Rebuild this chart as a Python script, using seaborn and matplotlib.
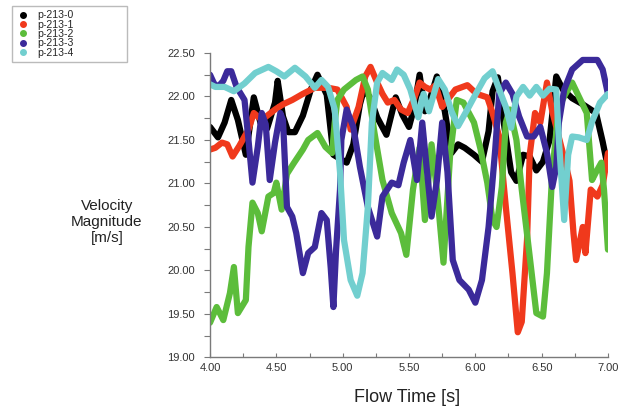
import matplotlib
matplotlib.use("Agg")
import matplotlib.pyplot as plt
from matplotlib.lines import Line2D
from matplotlib.ticker import MultipleLocator, FormatStrFormatter
import seaborn as sns
import pandas as pd

# ---- data ----
probes = ["p-213-0", "p-213-1", "p-213-2", "p-213-3", "p-213-4"]
colors = ["#000000", "#f0391c", "#5cbd3b", "#3b2a9a", "#72cfcf"]

t0 = [4.00, 4.06, 4.11, 4.16, 4.21, 4.27, 4.33, 4.38, 4.43, 4.49, 4.51, 4.55, 4.59, 4.64,
      4.70, 4.76, 4.81, 4.88, 4.93, 5.03, 5.08, 5.13, 5.16, 5.21, 5.26, 5.33, 5.40, 5.45,
      5.50, 5.54, 5.58, 5.62, 5.66, 5.71, 5.77, 5.82, 5.87, 5.92, 5.99, 6.05, 6.10, 6.13,
      6.17, 6.22, 6.27, 6.31, 6.36, 6.41, 6.46, 6.51, 6.56, 6.61, 6.66, 6.73, 6.81, 6.91,
      6.96, 7.00]
v0 = [21.65, 21.53, 21.70, 21.96, 21.73, 21.33, 21.99, 21.70, 21.63, 21.93, 22.18, 21.77,
      21.59, 21.59, 21.78, 22.08, 22.25, 22.02, 21.33, 21.24, 21.45, 21.91, 22.08, 21.98,
      21.76, 21.56, 21.99, 21.79, 21.65, 21.88, 22.25, 21.83, 21.98, 22.23, 21.83, 21.35,
      21.45, 21.41, 21.33, 21.25, 21.60, 22.06, 22.22, 21.64, 21.13, 21.03, 21.33, 21.31,
      21.15, 21.25, 21.50, 22.23, 22.08, 21.98, 21.91, 21.81, 21.48, 21.18]

t1 = [4.00, 4.04, 4.09, 4.13, 4.17, 4.22, 4.29, 4.33, 4.39, 4.44, 4.49, 4.55, 4.62, 4.70,
      4.79, 4.89, 4.96, 5.03, 5.06, 5.12, 5.17, 5.21, 5.26, 5.30, 5.34, 5.39, 5.44, 5.49,
      5.54, 5.58, 5.62, 5.66, 5.70, 5.75, 5.81, 5.85, 5.94, 6.01, 6.09, 6.13, 6.18, 6.23,
      6.28, 6.32, 6.35, 6.39, 6.41, 6.45, 6.49, 6.54, 6.58, 6.63, 6.68, 6.71, 6.74, 6.76,
      6.81, 6.83, 6.87, 6.92, 6.96, 7.00]
v1 = [21.39, 21.41, 21.47, 21.45, 21.31, 21.43, 21.62, 21.81, 21.73, 21.79, 21.85, 21.91,
      21.96, 22.03, 22.10, 22.10, 22.08, 21.88, 21.62, 21.88, 22.23, 22.34, 22.16, 22.03,
      21.93, 21.96, 21.85, 21.81, 21.98, 22.16, 22.11, 22.08, 22.13, 21.88, 22.00, 22.08,
      22.13, 22.03, 21.99, 21.81, 21.54, 20.73, 19.97, 19.29, 19.41, 20.36, 21.33, 21.81,
      21.70, 22.16, 21.83, 21.53, 21.23, 21.03, 20.43, 20.12, 20.50, 20.20, 20.93, 20.85,
      20.98, 21.35]

t2 = [4.00, 4.05, 4.10, 4.15, 4.18, 4.21, 4.27, 4.29, 4.32, 4.36, 4.39, 4.44, 4.48, 4.50,
      4.54, 4.58, 4.63, 4.70, 4.74, 4.81, 4.87, 4.92, 4.94, 4.96, 5.01, 5.10, 5.15, 5.19,
      5.24, 5.30, 5.37, 5.44, 5.48, 5.53, 5.58, 5.62, 5.67, 5.71, 5.76, 5.81, 5.86, 5.91,
      5.99, 6.04, 6.09, 6.13, 6.16, 6.20, 6.23, 6.26, 6.31, 6.35, 6.41, 6.46, 6.51, 6.54,
      6.58, 6.63, 6.68, 6.73, 6.78, 6.84, 6.88, 6.91, 6.95, 6.97, 7.00]
v2 = [19.40, 19.58, 19.43, 19.74, 20.04, 19.51, 19.66, 20.27, 20.78, 20.66, 20.45, 20.85,
      20.89, 21.01, 20.70, 21.11, 21.23, 21.39, 21.50, 21.58, 21.42, 21.35, 21.70, 21.96,
      22.08, 22.19, 22.23, 22.08, 21.58, 21.04, 20.66, 20.43, 20.18, 20.93, 21.41, 20.58,
      21.45, 20.93, 20.09, 21.33, 21.96, 21.93, 21.70, 21.39, 21.01, 20.58, 20.50, 20.96,
      21.70, 21.85, 21.50, 20.93, 20.16, 19.51, 19.47, 19.97, 21.13, 21.88, 22.03, 22.16,
      22.00, 21.81, 21.04, 21.13, 21.24, 20.93, 20.24]

t3 = [4.00, 4.03, 4.06, 4.10, 4.13, 4.16, 4.20, 4.26, 4.29, 4.32, 4.36, 4.39, 4.42, 4.45,
      4.49, 4.53, 4.55, 4.58, 4.62, 4.65, 4.70, 4.74, 4.79, 4.84, 4.88, 4.91, 4.93, 4.95,
      4.98, 4.99, 5.03, 5.08, 5.13, 5.19, 5.26, 5.30, 5.37, 5.42, 5.46, 5.51, 5.56, 5.60,
      5.63, 5.67, 5.71, 5.75, 5.79, 5.83, 5.88, 5.95, 6.00, 6.05, 6.10, 6.15, 6.18, 6.23,
      6.28, 6.33, 6.39, 6.44, 6.49, 6.54, 6.58, 6.61, 6.63, 6.67, 6.73, 6.81, 6.92, 6.96,
      7.00]
v3 = [22.25, 22.15, 22.11, 22.18, 22.29, 22.29, 22.11, 21.96, 21.50, 21.01, 21.42, 21.81,
      21.68, 21.04, 21.47, 21.81, 21.73, 20.73, 20.62, 20.43, 19.97, 20.20, 20.27, 20.66,
      20.58, 20.03, 19.58, 20.23, 20.93, 21.50, 21.85, 21.65, 21.19, 20.73, 20.39, 20.85,
      21.01, 20.98, 21.24, 21.50, 21.04, 21.70, 21.23, 20.62, 21.03, 21.70, 21.13, 20.12,
      19.89, 19.78, 19.63, 19.89, 20.50, 21.39, 22.03, 22.16, 22.03, 21.77, 21.54, 21.54,
      21.65, 21.35, 20.96, 21.19, 21.70, 22.08, 22.31, 22.42, 22.42, 22.31, 22.03]

t4 = [4.00, 4.04, 4.11, 4.18, 4.26, 4.34, 4.44, 4.50, 4.56, 4.64, 4.72, 4.79, 4.84, 4.89,
      4.94, 4.98, 5.01, 5.06, 5.11, 5.15, 5.19, 5.22, 5.26, 5.30, 5.37, 5.41, 5.46, 5.51,
      5.57, 5.61, 5.65, 5.72, 5.77, 5.82, 5.87, 5.94, 6.00, 6.07, 6.13, 6.18, 6.23, 6.27,
      6.31, 6.36, 6.41, 6.46, 6.51, 6.56, 6.61, 6.63, 6.67, 6.70, 6.73, 6.78, 6.84, 6.88,
      6.94, 7.00]
v4 = [22.14, 22.11, 22.11, 22.06, 22.15, 22.27, 22.34, 22.29, 22.23, 22.33, 22.23, 22.10,
      22.19, 22.11, 21.85, 21.13, 20.35, 19.89, 19.71, 19.97, 20.73, 21.70, 22.16, 22.27,
      22.19, 22.31, 22.25, 22.08, 21.76, 22.03, 21.83, 22.20, 22.08, 21.83, 21.66, 21.85,
      22.02, 22.21, 22.29, 22.08, 21.88, 21.64, 22.00, 22.11, 22.01, 22.11, 22.01, 22.09,
      22.08, 21.50, 20.58, 21.33, 21.54, 21.53, 21.50, 21.71, 21.93, 22.03]

x_ticks = [4.0, 4.5, 5.0, 5.5, 6.0, 6.5, 7.0]
y_ticks = [19.0, 19.5, 20.0, 20.5, 21.0, 21.5, 22.0, 22.5]

# ---- build long-form table ----
frames = []
for name, t, v in zip(probes, [t0, t1, t2, t3, t4], [v0, v1, v2, v3, v4]):
    frames.append(pd.DataFrame({"time": t, "velocity": v, "probe": name}))
df = pd.concat(frames, ignore_index=True)

sns.set_style("ticks")
plt.rcParams["font.family"] = ["Liberation Sans", "DejaVu Sans"]

fig = plt.figure(figsize=(6.26, 4.12), dpi=100)
ax = fig.add_axes([0.3355, 0.1323, 0.6357, 0.7391])

sns.lineplot(data=df, x="time", y="velocity", hue="probe", hue_order=probes,
             palette=dict(zip(probes, colors)), sort=False, estimator=None,
             linewidth=4.5, legend=False, ax=ax,
             solid_capstyle="round", solid_joinstyle="round")

ax.set_xlim(4.0, 7.0)
ax.set_ylim(19.0, 22.5)
ax.set_xticks(x_ticks)
ax.set_yticks(y_ticks)
ax.xaxis.set_minor_locator(MultipleLocator(0.25))
ax.yaxis.set_minor_locator(MultipleLocator(0.25))
ax.xaxis.set_major_formatter(FormatStrFormatter("%.2f"))
ax.yaxis.set_major_formatter(FormatStrFormatter("%.2f"))

for side in ["top", "right"]:
    ax.spines[side].set_visible(False)
for side in ["left", "bottom"]:
    ax.spines[side].set_color("#7a7a7a")
    ax.spines[side].set_linewidth(1.0)

ax.tick_params(axis="y", which="both", direction="out", length=4.5, width=0.8,
               color="#7a7a7a", labelsize=8, labelcolor="#333333", pad=6.5)
ax.tick_params(axis="x", which="both", direction="in", length=3, width=0.8,
               color="#7a7a7a", labelsize=8, labelcolor="#333333", pad=4)

ax.set_xlabel("Flow Time [s]", fontsize=13, color="#222222", va="center")
ax.xaxis.set_label_coords(0.494, -0.13)
ax.set_ylabel("Velocity\nMagnitude\n[m/s]", fontsize=11, color="#222222",
              rotation=0, ha="center", va="center")
ax.yaxis.set_label_coords(-0.259, 0.445)

handles = [Line2D([], [], marker="o", linestyle="none", color=c, markersize=4)
           for c in colors]
leg = fig.legend(handles, probes, loc="upper left", mode="expand",
                 bbox_to_anchor=(12 / 626, 1 - 6 / 412, 115 / 626, 0.0),
                 bbox_transform=fig.transFigure, borderaxespad=0,
                 fontsize=7.6, labelspacing=-0.06, handlelength=1.2,
                 handletextpad=0.8, borderpad=0.4, frameon=True, fancybox=False)
leg.get_frame().set_edgecolor("#aaaaaa")
leg.get_frame().set_linewidth(1.0)

fig.savefig("out.png", dpi=100, facecolor="white")
